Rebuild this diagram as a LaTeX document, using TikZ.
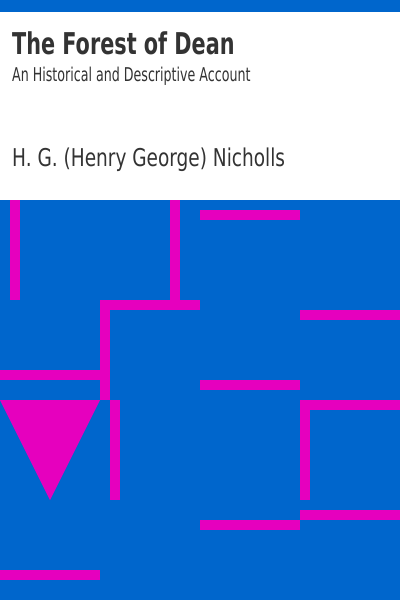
\documentclass[tikz,border=0pt]{standalone}
\usepackage{fontspec}
\setmainfont{DejaVu Sans Condensed}
\definecolor{coverblue}{RGB}{0,102,204}
\definecolor{covermagenta}{RGB}{230,0,190}
\definecolor{covertext}{RGB}{51,51,51}
\begin{document}
\begin{tikzpicture}[x=1pt,y=-1pt,
		bar/.style={fill=covermagenta},
		coverlabel/.style={anchor=base west,inner sep=0pt,text=covertext}]
		\useasboundingbox (0,0) rectangle (400,600);
		\fill[white] (0,0) rectangle (400,600);
		\fill[coverblue] (0,0) rectangle (400,12);
		\fill[coverblue] (0,200) rectangle (400,600);
		% texts
		\node[coverlabel,font=\bfseries\fontsize{30}{36}\selectfont,xscale=0.77] (title) at (12,54) {The Forest of Dean};
		\node[coverlabel,font=\fontsize{19}{23}\selectfont,xscale=0.74] (subtitle) at (12,81) {An Historical and Descriptive Account};
		\node[coverlabel,font=\fontsize{24.5}{29}\selectfont,xscale=0.84] (author) at (12,166) {H. G. (Henry George) Nicholls};
		% pattern
		\fill[bar] (10,200) rectangle (20,300);
		\fill[bar] (170,200) rectangle (180,300);
		\fill[bar] (100,300) rectangle (200,310);
		\fill[bar] (100,300) rectangle (110,400);
		\fill[bar] (0,370) rectangle (100,380);
		\fill[bar] (200,210) rectangle (300,220);
		\fill[bar] (300,310) rectangle (400,320);
		\fill[bar] (200,380) rectangle (300,390);
		\fill[bar] (0,400) -- (100,400) -- (50,500) -- cycle;
		\fill[bar] (110,400) rectangle (120,500);
		\fill[bar] (0,570) rectangle (100,580);
		\fill[bar] (300,400) rectangle (400,410);
		\fill[bar] (300,400) rectangle (310,500);
		\fill[bar] (300,510) rectangle (400,520);
		\fill[bar] (200,520) rectangle (300,530);
	\end{tikzpicture}
\end{document}
